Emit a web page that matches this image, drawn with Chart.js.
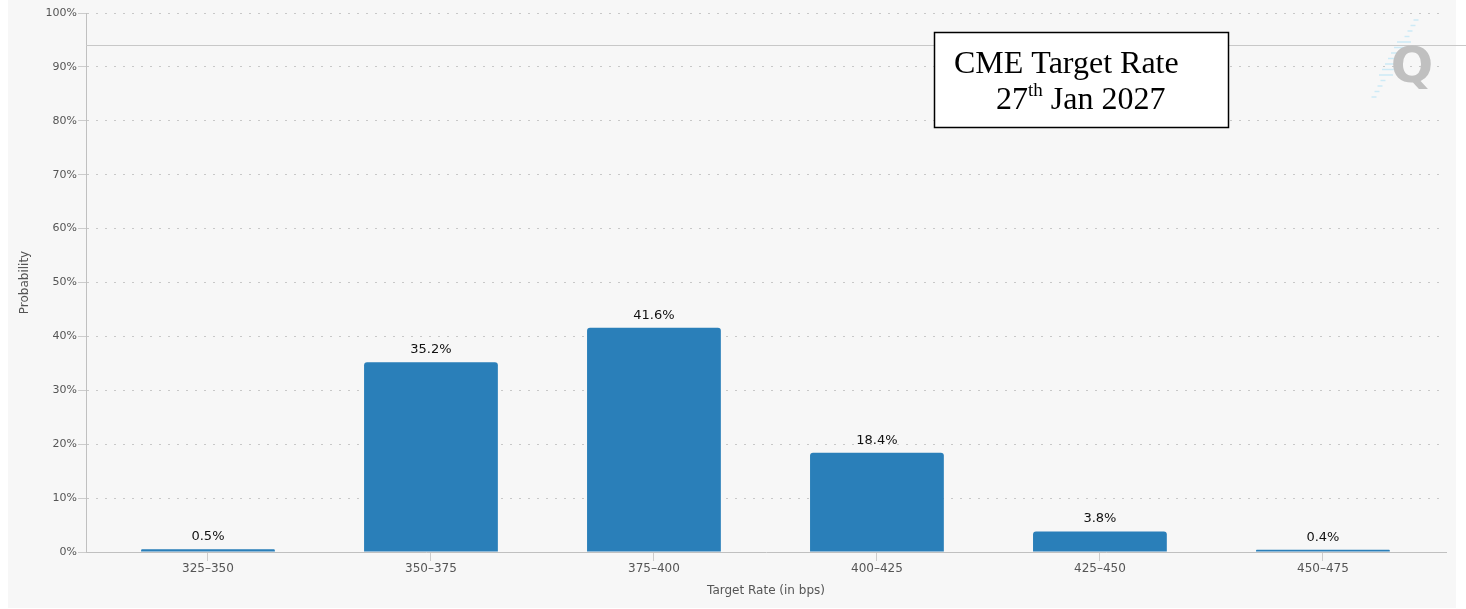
<!DOCTYPE html>
<html>
<head>
<meta charset="utf-8">
<script src="https://cdn.jsdelivr.net/npm/chart.js@4.4.1/dist/chart.umd.min.js"></script>
<style>
  html, body { margin: 0; padding: 0; background: #ffffff; }
  #wrap { width: 1466px; height: 609px; }
</style>
</head>
<body>
<div id="wrap"><canvas id="myChart" width="1466" height="609"></canvas></div>
<script>
// target rate ranges and probabilities (%)
const rateRanges = ["325\u2013350", "350\u2013375", "375\u2013400", "400\u2013425", "425\u2013450", "450\u2013475"];
const probability = [0.5, 35.2, 41.6, 18.4, 3.8, 0.4];
const yTicks = [0, 10, 20, 30, 40, 50, 60, 70, 80, 90, 100];
const refLine = 94; // thin grey line across the top of the chart

const fontName = "'DejaVu Sans', sans-serif";

// background panel, text box, logo, value labels
const extras = {
  id: "extras",
  beforeDraw(chart) {
    const c = chart.ctx;
    c.save();
    c.fillStyle = "#f7f7f7";
    c.fillRect(8, 0, 1448, 608);
    c.restore();
  },
  afterDatasetsDraw(chart) {
    const c = chart.ctx;
    const y = chart.scales.y;
    const area = chart.chartArea;
    c.save();

    // value labels above the bars
    c.font = "13px " + fontName;
    c.fillStyle = "#111";
    c.textAlign = "center";
    c.textBaseline = "bottom";
    chart.getDatasetMeta(0).data.forEach((bar, i) => {
      c.fillText(probability[i].toFixed(1) + "%", bar.x, bar.y - 6);
    });

    // grey line
    const ly = Math.round(y.getPixelForValue(refLine)) + 0.5;
    c.strokeStyle = "#c8c8c8";
    c.lineWidth = 1;
    c.beginPath();
    c.moveTo(area.left, ly);
    c.lineTo(1466, ly);
    c.stroke();

    // Q logo
    c.strokeStyle = "#cdeaf6";
    c.lineWidth = 1.5;
    for (let k = 0; k < 15; k++) {
      const yy = 20 + k * 5.5;
      const xx = 1416 - k * 3;
      const w = (k > 3 && k < 11) ? 14 : 5;
      c.beginPath();
      c.moveTo(xx - w / 2, yy);
      c.lineTo(xx + w / 2, yy);
      c.stroke();
    }
    c.font = "bold 50px 'DejaVu Sans', sans-serif";
    c.fillStyle = "#c0c0c0";
    c.textAlign = "center";
    c.textBaseline = "alphabetic";
    c.fillText("Q", 1412, 82);

    // text box
    c.fillStyle = "#ffffff";
    c.fillRect(934.5, 32.5, 294, 95);
    c.strokeStyle = "#000";
    c.lineWidth = 1.5;
    c.strokeRect(934.5, 32.5, 294, 95);
    c.fillStyle = "#000";
    c.textAlign = "left";
    c.font = "32px 'Liberation Serif', serif";
    c.fillText("CME Target Rate", 954, 73);
    c.fillText("27", 996, 109);
    let x = 996 + c.measureText("27").width;
    c.font = "19px 'Liberation Serif', serif";
    c.fillText("th", x, 96);
    x += c.measureText("th").width;
    c.font = "32px 'Liberation Serif', serif";
    c.fillText(" Jan 2027", x, 109);
    c.restore();
  }
};

const ctx = document.getElementById("myChart").getContext("2d");
const chart = new Chart(ctx, {
  type: "bar",
  data: {
    datasets: [{
      data: probability.map((v, i) => ({ x: i, y: v })),
      backgroundColor: "#2a7fb9",
      borderRadius: { topLeft: 3, topRight: 3, bottomLeft: 0, bottomRight: 0 },
      borderSkipped: false,
      barPercentage: 0.6,
      categoryPercentage: 1
    }]
  },
  plugins: [extras],
  options: {
    responsive: false,
    animation: false,
    layout: { padding: { left: 8, top: 13, right: 20, bottom: 1 } },
    plugins: { legend: { display: false }, tooltip: { enabled: false } },
    scales: {
      x: {
        type: "linear",
        min: -0.547,
        max: 5.552,
        offset: false,
        afterFit(scale) { scale.height = 56; },
        afterBuildTicks(scale) {
          scale.ticks = rateRanges.map((r, i) => ({ value: i }));
        },
        ticks: {
          callback: (v) => rateRanges[v],
          color: "#555",
          font: { family: fontName, size: 12 },
          padding: 1,
          maxRotation: 0
        },
        grid: { offset: false, drawOnChartArea: false, drawTicks: true, tickLength: 9, tickColor: "#ccc" },
        border: { color: "#c0c0c0", width: 1 },
        title: {
          display: true,
          text: "Target Rate (in bps)",
          color: "#555",
          font: { family: fontName, size: 12 },
          padding: { top: 4, bottom: 10 }
        }
      },
      y: {
        min: 0,
        max: 100,
        afterFit(scale) { scale.width = 78; },
        afterBuildTicks(scale) {
          scale.ticks = yTicks.map((v) => ({ value: v }));
        },
        ticks: {
          callback: (v) => v + "%",
          color: "#555",
          font: { family: fontName, size: 11 },
          padding: 1
        },
        grid: {
          color: "#c8c8c8",
          lineWidth: 1,
          tickLength: 8,
          tickColor: "#ccc",
          tickBorderDash: []
        },
        border: { color: "#c0c0c0", width: 1, dash: [2, 7], dashOffset: -9 },
        title: {
          display: true,
          text: "Probability",
          color: "#555",
          font: { family: fontName, size: 12 },
          padding: { top: 10, bottom: 0 }
        }
      }
    }
  }
});
</script>
</body>
</html>
